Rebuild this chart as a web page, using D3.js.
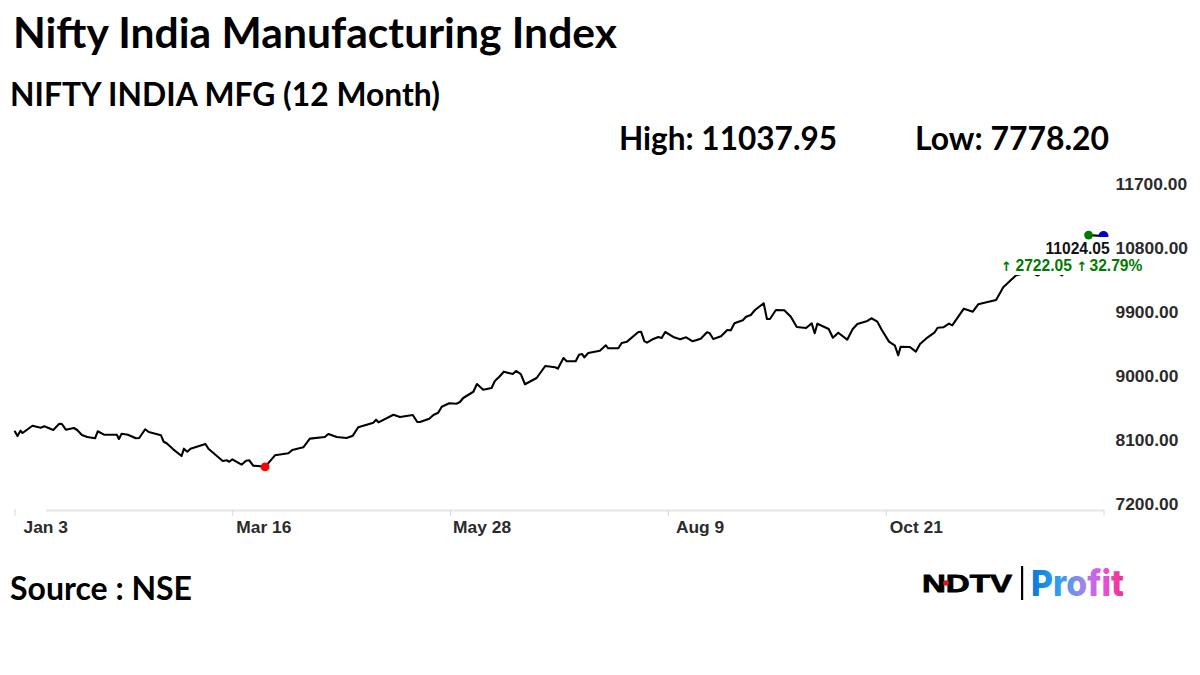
<!DOCTYPE html>
<html>
<head>
<meta charset="utf-8">
<script src="https://cdn.jsdelivr.net/npm/d3@7"></script>
<style>
html,body{margin:0;padding:0;background:#fff;}
svg{display:block;}
</style>
</head>
<body>
<svg id="chart" width="1200" height="675"></svg>
<script>
const titleText = "Nifty India Manufacturing Index";
const subtitleText = "NIFTY INDIA MFG (12 Month)";
const sourceText = "Source : NSE";
const highValue = 11037.95;
const lowValue = 7778.20;
const lastValue = 11024.05;
const changeParts = ["\u2191", "2722.05", "\u2191", "32.79%"];
const yTicks = [7200, 8100, 9000, 9900, 10800, 11700];
const xTickDays = [0, 73, 146, 219, 292, 365];
const xTickLabels = ["Jan 3", "Mar 16", "May 28", "Aug 9", "Oct 21", ""];
// days elapsed since Jan 3
const days = [0,1,2,2.7,6,8.8,10,13,15,15.9,17.2,19.9,21,22.6,24.4,27,27.9,30,34.3,35,35.9,38,40.7,41.8,43.8,45,49.1,50,51,53.2,56,56.8,57.9,59,64,65,69.8,71.1,72,73,76.1,77.6,78.7,80,81.6,84,87.3,91.8,93.1,96.8,99,104,105.2,108,111.3,113.4,115.2,120.3,121.2,122,127,129.2,133.5,135,135.9,139,140.4,142,143.2,145.7,148.2,149.3,150.4,153.8,155,157.1,159.9,161,162.5,164,167,168.1,169.7,171.1,175,177.9,181.2,182.1,184,185.1,188.1,189.2,190.2,191,192.3,196.2,198.2,199,202.4,203.5,205.3,209.1,210,211.1,212,214.1,215.8,216.9,218.1,220.8,223.1,225.1,227.3,230,232.1,233,234.2,236.8,238.9,240.1,241.3,244.1,245.2,246.8,248.2,251.1,252.2,253.2,255.2,258,260.2,262.2,265.3,267.2,268.2,269.1,272.9,274.3,276.1,279.1,280.9,282.5,285.6,287.2,289.2,290.7,293.1,295.1,296.2,297,300.1,302.1,303.5,305.5,308.3,309.4,311.3,313.2,314.3,318.2,321.2,323,329,331.4,334,335.7,340.4,343,347,351.1,355.4,358.8,360,365];
const closes = [8287,8212,8287,8255,8357,8329,8349,8297,8385,8381,8301,8325,8297,8227,8198,8180,8279,8231,8231,8170,8245,8231,8180,8184,8307,8269,8222,8132,8110,8025,7931,8034,7992,8034,8100,8034,7861,7871,7851,7885,7809,7865,7871,7795,7791,7778.2,7941,7969,8016,8054,8175,8198,8241,8198,8184,8217,8335,8400,8442,8405,8512,8480,8508,8409,8409,8456,8508,8540,8625,8672,8667,8691,8747,8835,8944,8864,8888,8986,9046,9117,9084,9127,9084,8940,9028,9197,9179,9159,9309,9263,9263,9356,9366,9319,9380,9412,9488,9446,9446,9520,9539,9675,9679,9548,9525,9577,9605,9591,9675,9605,9572,9600,9544,9581,9671,9657,9577,9615,9703,9699,9797,9840,9890,9914,9984,10079,9858,9858,9984,9980,9890,9745,9731,9797,9657,9792,9717,9595,9665,9567,9713,9788,9825,9868,9820,9703,9539,9482,9347,9468,9464,9398,9506,9581,9665,9735,9741,9792,9769,10003,9960,10064,10125,10304,10406,10472,10519,10470,10575,10470,10716,10927,11037.95,11024.05];

const svg = d3.select("#chart");
const x = d3.scaleLinear().domain([0, 365]).range([14.5, 1103.5]);
const y = d3.scaleLinear().domain([7200, 11700]).range([508, 188]);
const points = days.map((d, i) => ({day: d, close: closes[i]}));
const lowPoint = points.find(p => p.close === lowValue);
const highPoint = points.find(p => p.close === highValue);
const lastPoint = points[points.length - 1];

const lato = "Lato, 'Open Sans', sans-serif";
const arial = "'Liberation Sans', Arial, sans-serif";

function heading(text, px, base, size, width) {
  svg.append("text").attr("x", px).attr("y", base)
    .attr("font-family", lato).attr("font-weight", 700).attr("font-size", size)
    .attr("fill", "#000").attr("textLength", width).attr("lengthAdjust", "spacingAndGlyphs")
    .text(text);
}
heading(titleText, 13, 47.5, 41.5, 604);
heading(subtitleText, 10, 105.5, 32.5, 430);
heading("High: " + highValue.toFixed(2), 619, 149.5, 31.5, 218);
heading("Low: " + lowValue.toFixed(2), 915, 149.5, 31.5, 194);
heading(sourceText, 10, 600, 32, 182);

// x axis
const xAxis = d3.axisBottom(x).tickValues(xTickDays)
  .tickFormat((d, i) => xTickLabels[i]).tickSize(6).tickSizeOuter(0);
const gx = svg.append("g").attr("transform", "translate(0,510)").call(xAxis);
gx.select(".domain").attr("stroke", "#e6e6e6").attr("stroke-width", 2);
gx.selectAll(".tick line").attr("stroke", "#d8d8d8");
gx.selectAll(".tick text")
  .attr("font-family", arial).attr("font-weight", 700).attr("font-size", 17.4)
  .attr("fill", "#2b2b2b").attr("text-anchor", "start").attr("x", (d, i) => [8.5, 3.5, 2.5, 7.5, 3.5, 0][i]).attr("y", 11);
svg.append("rect").attr("x", 16).attr("y", 507).attr("width", 30).attr("height", 5).attr("fill", "#fff");

// y axis
const yAxis = d3.axisRight(y).tickValues(yTicks).tickFormat(d3.format(".2f")).tickSize(0);
const gy = svg.append("g").attr("transform", "translate(1115.5,0)").call(yAxis);
gy.select(".domain").remove();
gy.selectAll(".tick text")
  .attr("font-family", arial).attr("font-weight", 700).attr("font-size", 17.4)
  .attr("fill", "#2b2b2b").attr("x", 0).attr("dy", "0.06em");

// line
const line = d3.line().x(d => x(d.day)).y(d => y(d.close));
svg.append("path").datum(points).attr("fill", "none").attr("stroke", "#000")
  .attr("stroke-width", 2.1).attr("stroke-linejoin", "round").attr("d", line);

// last dot, half covered by the label background
svg.append("circle").attr("cx", x(lastPoint.day)).attr("cy", y(lastPoint.close)).attr("r", 5).attr("fill", "#0000c8");

// label backgrounds
svg.append("rect").attr("x", 1000).attr("y", 255).attr("width", 145).attr("height", 20).attr("fill", "#fff");
svg.append("rect").attr("x", 1040).attr("y", 237).attr("width", 72).attr("height", 20).attr("fill", "#fff");

svg.append("circle").attr("cx", x(highPoint.day)).attr("cy", y(highPoint.close)).attr("r", 4.4).attr("fill", "#007a00");
svg.append("circle").attr("cx", x(lowPoint.day)).attr("cy", y(lowPoint.close)).attr("r", 4.4).attr("fill", "#ff0000");

svg.append("text").attr("x", 1045.5).attr("y", 254)
  .attr("font-family", arial).attr("font-weight", 700).attr("font-size", 15.6).attr("fill", "#111")
  .text(lastValue.toFixed(2));
const changeX = [1001, 1015.5, 1076.5, 1089.5];
const changeText = svg.append("text").attr("y", 271)
  .attr("font-family", arial).attr("font-weight", 700).attr("font-size", 15.6).attr("fill", "#007a00");
changeParts.forEach((part, i) => {
  const span = changeText.append("tspan").attr("x", changeX[i]).text(part);
  if (i % 2 === 0) span.attr("font-family", "'DejaVu Sans'").attr("font-size", 13);
});

// brand mark
const defs = svg.append("defs");
const grad = defs.append("linearGradient").attr("id", "profit").attr("x1", "0").attr("x2", "1").attr("y1", "0").attr("y2", "0");
[["0%", "#0a78d8"], ["30%", "#2ea0f0"], ["55%", "#9a86ec"], ["78%", "#e850e0"], ["100%", "#f0307a"]]
  .forEach(s => grad.append("stop").attr("offset", s[0]).attr("stop-color", s[1]));
svg.append("text").attr("x", 922).attr("y", 592)
  .attr("font-family", arial).attr("font-weight", 700).attr("font-size", 24).attr("fill", "#000")
  .attr("stroke", "#000").attr("stroke-width", 0.8)
  .attr("textLength", 90).attr("lengthAdjust", "spacingAndGlyphs").text("NDTV");
svg.append("circle").attr("cx", 946).attr("cy", 583).attr("r", 2.8).attr("fill", "#e8141c");
svg.append("rect").attr("x", 1021).attr("y", 566).attr("width", 2.2).attr("height", 34).attr("fill", "#000");
svg.append("text").attr("x", 1031).attr("y", 596)
  .attr("font-family", "Inter, Roboto, sans-serif").attr("font-weight", 800).attr("font-size", 36)
  .attr("fill", "url(#profit)").attr("textLength", 93).attr("lengthAdjust", "spacingAndGlyphs").text("Profit");
</script>
</body>
</html>
